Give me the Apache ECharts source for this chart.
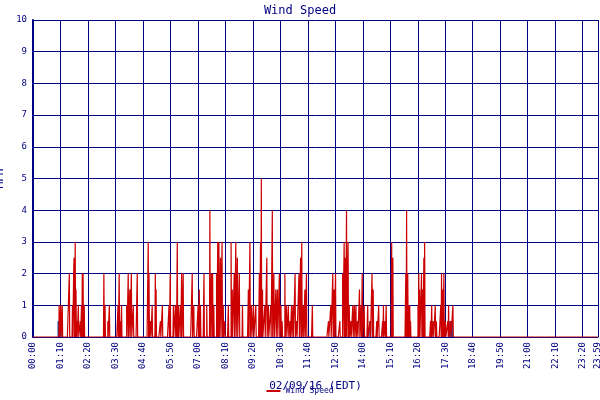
<!DOCTYPE html><html><head><meta charset="utf-8">
<script src="https://cdn.jsdelivr.net/npm/echarts@6/dist/echarts.min.js"></script>
<style>body{margin:0}#c{width:600px;height:400px}</style></head><body><div id="c"></div>
<script>
var spikeMinutes=[67,71,75,93,101,104,105,108,110,112,116,121,124,126,128,131,181,184,191,195,217,220,223,226,239,243,247,251,256,266,294,296,300,304,312,314,325,330,347,350,358,363,365,368,371,376,379,383,406,410,421,424,
427,436,443,451,455,458,461,468,471,474,478,482,485,489,498,505,508,513,517,521,526,534,549,553,557,562,568,577,580,582,585,591,596,600,606,610,614,619,623,628,632,635,642,646,651,655,659,663,668,672,678,682,685,689,693,697,712,753,759,764,767,771,782,789,793,796,799,803,806,810,815,819,823,827,832,836,839,844,853,859,864,867,876,881,
891,893,897,900,914,917,950,952,955,957,960,962,981,983,985,990,993,996,998,1013,1016,1020,1025,1028,1039,1041,1044,1047,1051,1057,1059,1064,1070];
var spikeValues=[1,1,1,2,1,2,2.5,3,1.5,0.5,1,0.5,1,2,2,1,2,1,0.5,1,1,2,0.5,1,1,2,1.5,2,1,2,3,2,0.5,1,2,1.5,0.5,1,1,2,1,1,1,3,1,1,2,2,2,1,1,1.5,
1,2,1,4,2,2,1,2,3,3,2.5,3,1,0.5,1,3,1.5,2,3,2.5,2,1,1.5,3,1,1,1,2,3,5,1.5,1,2.5,1,1,4,2,1.5,1.5,2,1,0.5,2,1,1,0.5,1,1,2,0.5,2,2.5,3,1,1.5,2,1,0.5,1,2,1.5,2,0.5,2,3,2.5,4,3,1,0.5,1,1,1,0.5,1.5,1,2,1,1,0.5,2,1.5,0.5,1,
0.5,1,0.5,1,3,2.5,2,4,2,1,1,0.5,1,2,1.5,2,1.5,2.5,3,0.5,1,0.5,1,0.5,1,2,1.5,2,0.5,0.5,1,0.5,1];
var avgMinutes=[65,68,70,859,1063,1067];
var avgValues=[0.5,0.5,0.5,0.5,0.5,0.5];
var wind=[];for(var m=0;m<1440;m++)wind.push([m,0]);
spikeMinutes.forEach(function(m,i){wind[m][1]=spikeValues[i];});
function fmt(v){v=Math.round(v);var h=Math.floor(v/60),mm=v%60;return(h<10?'0':'')+h+':'+(mm<10?'0':'')+mm;}
var navy='#000080',F='DejaVu Sans Mono';
echarts.init(document.getElementById('c')).setOption({
animation:false,
title:{text:'Wind Speed',left:'center',top:0,textStyle:{color:navy,fontFamily:F,fontSize:12,fontWeight:'normal'}},
legend:{bottom:0,left:'center',itemWidth:14,itemHeight:2,data:[{name:'Wind Speed',icon:'rect'}],textStyle:{fontFamily:F,fontSize:8,color:navy}},
grid:{left:33,right:2,top:20,bottom:63,containLabel:false,outerBoundsMode:'none'},
xAxis:{type:'value',min:0,max:1439,interval:70,name:'02/09/16 (EDT)',nameLocation:'middle',nameGap:44,nameTextStyle:{color:navy,fontFamily:F,fontSize:11},
axisLine:{lineStyle:{color:navy,width:1}},axisTick:{show:false},
axisLabel:{rotate:90,color:navy,fontFamily:F,fontSize:9,formatter:fmt,showMaxLabel:true,margin:5},
splitLine:{lineStyle:{color:navy,width:1}}},
yAxis:{type:'value',min:0,max:10,interval:1,name:'MPH',nameLocation:'middle',nameGap:24,nameTextStyle:{color:navy,fontFamily:F,fontSize:11},
axisLine:{show:true,lineStyle:{color:navy,width:2}},axisTick:{show:false},
axisLabel:{color:navy,fontFamily:F,fontSize:9,margin:6},splitLine:{lineStyle:{color:navy,width:1}}},
series:[
{name:'avg',type:'bar',barWidth:2,itemStyle:{color:'#1a3fa0'},data:avgMinutes.map(function(m,i){return[m,avgValues[i]];})},
{name:'Wind Speed',type:'line',step:'middle',symbol:'none',color:'#cc0000',lineStyle:{width:1.2,color:'#cc0000'},data:wind}
]});
</script></body></html>
